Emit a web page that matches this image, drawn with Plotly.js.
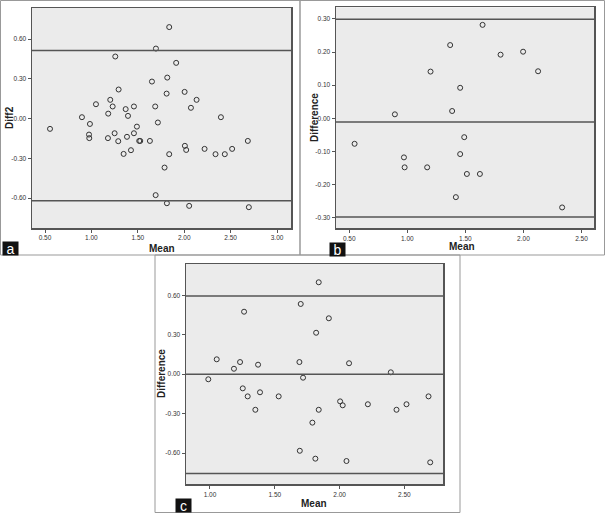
<!DOCTYPE html>
<html><head><meta charset="utf-8">
<script src="https://cdn.plot.ly/plotly-3.0.1.min.js"></script>
<style>html,body{margin:0;padding:0;background:#fff}#chart{width:605px;height:513px}</style>
</head><body><div id="chart"></div>
<script>
// Panel a: Bland-Altman (Diff2 vs Mean)
const aMean = [0.554,0.898,0.984,0.974,0.977,1.049,1.181,1.203,1.229,1.257,1.293,1.369,1.394,1.458,1.490,1.178,1.250,1.289,1.383,1.458,1.347,1.426,1.515,1.526,1.630,1.652,1.687,1.695,1.716,1.810,1.817,1.838,1.913,2.004,2.072,2.133,2.395,2.007,2.021,1.838,1.788,1.692,1.813,2.053,2.219,2.337,2.437,2.516,2.685,2.696];
const aDiff = [-0.077,0.011,-0.040,-0.120,-0.147,0.109,0.038,0.142,0.092,0.469,0.220,0.072,0.021,0.092,-0.060,-0.147,-0.110,-0.170,-0.137,-0.110,-0.266,-0.238,-0.168,-0.168,-0.168,0.280,0.092,0.529,-0.029,0.189,0.310,0.691,0.421,0.202,0.082,0.142,0.011,-0.205,-0.236,-0.268,-0.369,-0.577,-0.638,-0.658,-0.228,-0.268,-0.268,-0.228,-0.168,-0.668];
const aLines = [0.514, -0.620];
// Panel b
const bMean = [1.369,1.200,0.893,1.648,1.803,1.997,2.126,1.455,1.386,0.546,0.971,0.977,1.171,1.490,1.455,1.513,1.625,1.418,2.333];
const bDiff = [0.221,0.141,0.012,0.282,0.192,0.201,0.142,0.092,0.022,-0.077,-0.118,-0.148,-0.148,-0.057,-0.108,-0.168,-0.168,-0.238,-0.269];
const bLines = [0.299, -0.011, -0.298];
// Panel c
const cMean = [1.263,1.700,1.052,1.232,1.185,1.371,1.690,0.987,1.718,1.839,1.917,1.819,2.073,2.395,1.253,1.291,1.386,1.530,1.350,1.693,2.004,2.024,1.839,1.790,1.813,2.053,2.218,2.439,2.516,2.686,2.699];
const cDiff = [0.475,0.534,0.113,0.092,0.041,0.072,0.092,-0.039,-0.027,0.699,0.425,0.315,0.083,0.014,-0.108,-0.169,-0.138,-0.169,-0.271,-0.583,-0.207,-0.237,-0.271,-0.369,-0.643,-0.661,-0.229,-0.271,-0.229,-0.169,-0.671];
const cLines = [0.595, 0.000, -0.755];

const aXTicks = [0.5,1.0,1.5,2.0,2.5,3.0];
const aYTicks = [-0.6,-0.3,0,0.3,0.6];
const bXTicks = [0.5,1.0,1.5,2.0,2.5];
const bYTicks = [-0.3,-0.2,-0.1,0,0.1,0.2,0.3];
const cXTicks = [1.0,1.5,2.0,2.5];
const cYTicks = [-0.6,-0.3,0,0.3,0.6];

const W=605,H=513;
const px = v => v/W, py = v => 1 - v/H;
const fmt = v => (v<0?'-':'') + Math.abs(v).toFixed(2);

const marker = {symbol:'circle-open', size:5, color:'#333', line:{width:1,color:'#333'}};
function pts(x,y,xa,ya){return {type:'scatter',mode:'markers',x:x,y:y,xaxis:xa,yaxis:ya,marker:marker,hoverinfo:'x+y'};}

const data = [pts(aMean,aDiff,'x','y'), pts(bMean,bDiff,'x2','y2'), pts(cMean,cDiff,'x3','y3')];

const FAM = 'Liberation Sans, Arial, sans-serif';
const tickFont = {family:FAM, size:6.5, color:'#333'};
const titleFont = {family:FAM, size:10, color:'#222'};
function xax(dom, range, ticks, anchor){
  return {domain:dom, range:range, anchor:anchor, tickvals:ticks, ticktext:ticks.map(fmt),
    showgrid:false, zeroline:false, showline:true, mirror:true, linecolor:'#555', linewidth:1.5,
    ticks:'outside', ticklen:3, tickcolor:'#555', tickfont:tickFont, automargin:false, fixedrange:true};
}
function yax(dom, range, ticks, anchor){
  return {domain:dom, range:range, anchor:anchor, tickvals:ticks, ticktext:ticks.map(fmt),
    showgrid:false, zeroline:false, showline:true, mirror:true, linecolor:'#555', linewidth:1.5,
    ticks:'outside', ticklen:3, tickcolor:'#555', tickfont:tickFont, automargin:false, fixedrange:true};
}

const shapes = [];
function hline(y, xr, yr){ shapes.push({type:'line', xref:xr+' domain', yref:yr, x0:0, x1:1, y0:y, y1:y, line:{color:'#555', width:1.5}}); }
aLines.forEach(v=>hline(v,'x','y'));
bLines.forEach(v=>hline(v,'x2','y2'));
cLines.forEach(v=>hline(v,'x3','y3'));
// panel frames
function frame(x0,y0,x1,y1){ shapes.push({type:'rect', xref:'paper', yref:'paper', x0:px(x0), x1:px(x1), y0:py(y1), y1:py(y0), line:{color:'#999', width:1}, fillcolor:'rgba(0,0,0,0)', layer:'below'}); }
frame(0.5,0.5,300,255);
frame(300,0.5,604.5,255);
frame(155,255,460,512.5);

const labFont = {family:FAM, size:14, color:'#fff'};
function lab(t,x,y){ return {text:t, xref:'paper', yref:'paper', x:px(x), y:py(y), xanchor:'center', yanchor:'middle', showarrow:false, font:labFont, bgcolor:'#111', borderpad:0, width:15, height:13}; }
function ttl(t,x,y,rot){ return {text:'<b>'+t+'</b>', xref:'paper', yref:'paper', x:px(x), y:py(y), xanchor:'center', yanchor:'middle', showarrow:false, font:titleFont, textangle:rot||0}; }

const layout = {
  width:W, height:H, margin:{l:0,r:0,t:0,b:0}, paper_bgcolor:'#fff', plot_bgcolor:'#ebebeb', showlegend:false,
  xaxis: xax([px(32),px(291)], [0.36,3.15], aXTicks, 'y'),
  yaxis: yax([py(228),py(8)], [-0.825,0.835], aYTicks, 'x'),
  xaxis2: xax([px(336),px(594.3)], [0.386,2.61], bXTicks, 'y2'),
  yaxis2: yax([py(228.3),py(7.3)], [-0.332,0.335], bYTicks, 'x2'),
  xaxis3: xax([px(186),px(443.3)], [0.815,2.80], cXTicks, 'y3'),
  yaxis3: yax([py(484.3),py(264)], [-0.838,0.838], cYTicks, 'x3'),
  shapes: shapes,
  annotations: [
    ttl('Mean',161.5,248), ttl('Diff2',9,118,-90),
    ttl('Mean',462,246), ttl('Difference',314,118,-90),
    ttl('Mean',314,503), ttl('Difference',161,374,-90),
    lab('a',10,248), lab('b',337,249), lab('c',183,505.5)
  ]
};
Plotly.newPlot('chart', data, layout, {staticPlot:true, displayModeBar:false});
</script></body></html>
